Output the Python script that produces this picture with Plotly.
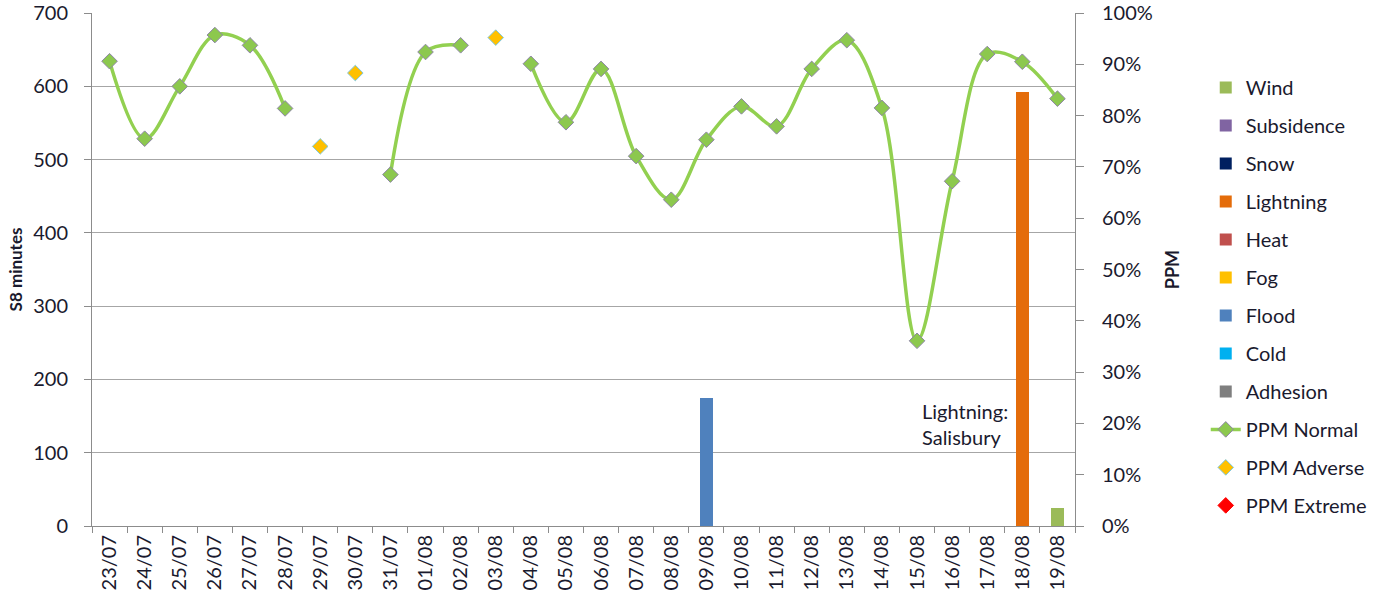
import plotly.graph_objects as go

# Dates (jour/mois)
dates = ["23/07", "24/07", "25/07", "26/07", "27/07", "28/07", "29/07", "30/07", "31/07",
         "01/08", "02/08", "03/08", "04/08", "05/08", "06/08", "07/08", "08/08", "09/08",
         "10/08", "11/08", "12/08", "13/08", "14/08", "15/08", "16/08", "17/08", "18/08",
         "19/08"]

# S8 minutes par cause (barres empilées, axe gauche)
wind       = [None] * 27 + [25]
subsidence = [None] * 28
snow       = [None] * 28
lightning  = [None] * 26 + [592, None]
heat       = [None] * 28
fog        = [None] * 28
flood      = [None] * 17 + [175] + [None] * 10
cold       = [None] * 28
adhesion   = [None] * 28

# PPM (axe droit, fraction)
ppm_normal = [0.906, 0.755, 0.857, 0.957, 0.937, 0.814, None, None, 0.685,
              0.924, 0.937, None, 0.901, 0.787, 0.891, 0.721, 0.636, 0.753,
              0.818, 0.779, 0.891, 0.947, 0.815, 0.361, 0.672, 0.920, 0.905,
              0.833]
ppm_adverse = [None, None, None, None, None, None, 0.740, 0.883, None,
               None, None, 0.952, None, None, None, None, None, None,
               None, None, None, None, None, None, None, None, None, None]
ppm_extreme = [None] * 28

bars = [("Wind", wind, "#9bbb59"), ("Subsidence", subsidence, "#8064a2"),
        ("Snow", snow, "#002060"), ("Lightning", lightning, "#e46c0a"),
        ("Heat", heat, "#c0504d"), ("Fog", fog, "#ffc000"),
        ("Flood", flood, "#4f81bd"), ("Cold", cold, "#00b0f0"),
        ("Adhesion", adhesion, "#7f7f7f")]

FONT = "Lato, 'Open Sans', sans-serif"
AXIS = "#8c8c8c"
TXT = "#1a1a2e"

fig = go.Figure()

for name, vals, col in bars:
    fig.add_trace(go.Bar(x=dates, y=vals, name=name, marker_color=col,
                         marker_line_width=0, legendgroup=name))

fig.add_trace(go.Scatter(
    x=dates, y=ppm_normal, name="PPM Normal", legendgroup="n", yaxis="y2",
    mode="lines+markers", line=dict(color="#92d050", width=3.5, shape="spline", smoothing=1),
    marker=dict(symbol="diamond", size=12, color="#8cc84e", line=dict(color="#8e86a6", width=1)),
))
fig.add_trace(go.Scatter(
    x=dates, y=ppm_adverse, name="PPM Adverse", legendgroup="a", yaxis="y2",
    mode="markers",
    marker=dict(symbol="diamond", size=12, color="#ffc000", line=dict(color="#7cc8e2", width=1)),
))
fig.add_trace(go.Scatter(
    x=dates, y=ppm_extreme, name="PPM Extreme", legendgroup="e", yaxis="y2",
    mode="markers",
    marker=dict(symbol="diamond", size=12, color="#ff0000", line=dict(color="#ff0000", width=1)),
))

# Étiquette de l'évènement foudre
fig.add_annotation(x="18/08", y=102, xref="x", yref="y", text="Lightning:<br>Salisbury",
                   showarrow=False, xanchor="right", yanchor="bottom", align="left",
                   xshift=-12, font=dict(size=20, color=TXT, family=FONT))

fig.update_layout(
    width=1384, height=601,
    margin=dict(l=92, r=303, t=13, b=75),
    plot_bgcolor="white", paper_bgcolor="white",
    font=dict(family=FONT, size=20, color=TXT),
    barmode="stack", bargap=0.62,
    showlegend=True,
    legend=dict(x=1.133, y=0.893, xanchor="left", yanchor="top",
                traceorder="grouped", tracegroupgap=9,
                font=dict(size=20, color=TXT)),
    xaxis=dict(type="category", range=[-0.5, 27.5], tickangle=-90, tickson="boundaries",
               ticks="outside", ticklen=6, tickcolor=AXIS, automargin=False,
               showline=True, linecolor=AXIS, linewidth=1, showgrid=False,
               tickfont=dict(size=20)),
    yaxis=dict(range=[0, 700], dtick=100, showgrid=True, gridcolor="#a6a6a6", gridwidth=1,
               showline=True, linecolor=AXIS, ticks="outside", ticklen=7, tickcolor=AXIS,
               zeroline=False, tickfont=dict(size=20), ticklabelstandoff=12, automargin=False,
               ticklabeloverflow="allow",
               title=dict(text="<b>S8 minutes</b>", font=dict(size=17), standoff=6)),
    yaxis2=dict(range=[0, 1], dtick=0.1, tickformat=".0%", overlaying="y", side="right",
                showgrid=False, showline=True, linecolor=AXIS, ticks="outside", ticklen=8,
                tickcolor=AXIS, zeroline=False, tickfont=dict(size=20), ticklabelstandoff=14,
                automargin=False, ticklabeloverflow="allow",
                title=dict(text="<b>PPM</b>", font=dict(size=18), standoff=14)),
)

# pas de marge de page ni de barres de défilement, pas de barre d'outils
fig.write_html("out.html", config={"displayModeBar": False, "responsive": False},
               post_script="document.body.style.margin='0';"
                           "document.body.style.overflow='hidden';"
                           "document.documentElement.style.overflow='hidden';")
